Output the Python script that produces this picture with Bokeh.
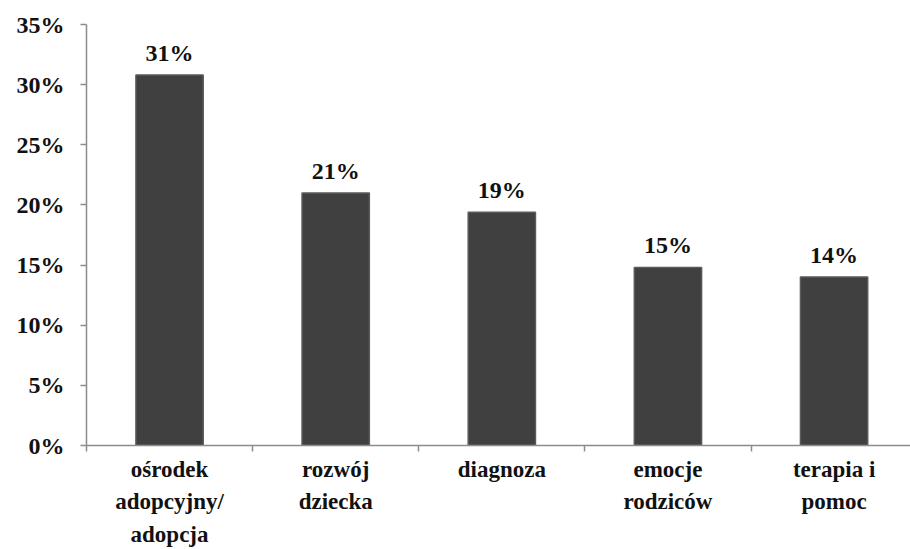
from bokeh.plotting import figure
from bokeh.models import Range1d, FixedTicker, ColumnDataSource
from bokeh.embed import file_html
from bokeh.resources import INLINE
from bokeh.core.properties import value

categories = ["ośrodek\nadopcyjny/\nadopcja", "rozwój\ndziecka", "diagnoza", "emocje\nrodziców", "terapia i\npomoc"]
values = [0.308, 0.210, 0.194, 0.148, 0.140]
value_labels = ["31%", "21%", "19%", "15%", "14%"]
y_ticks = [0.0, 0.05, 0.10, 0.15, 0.20, 0.25, 0.30, 0.35]
y_tick_labels = ["0%", "5%", "10%", "15%", "20%", "25%", "30%", "35%"]

FONT = "Liberation Serif"

xs = [i + 0.5 for i in range(len(categories))]
src = ColumnDataSource(dict(x=xs, top=values, lab=value_labels))

p = figure(width=910, height=549, output_backend="svg", toolbar_location=None,
           x_range=Range1d(0, 4.96), y_range=Range1d(0, 0.35),
           min_border_left=86, min_border_top=24, min_border_bottom=104, min_border_right=0)
p.outline_line_color = None
p.xgrid.visible = False
p.ygrid.visible = False
p.background_fill_color = "white"
p.border_fill_color = "white"

p.vbar(x="x", top="top", bottom=0, width=0.405, source=src,
       fill_color="#404040", line_color="#5a5a5a", line_width=1.5)

p.text(x="x", y="top", text="lab", source=src, y_offset=-9,
       text_align="center", text_baseline="bottom",
       text_font=value(FONT), text_font_style="bold", text_font_size="24px", text_color="#111111")

# y axis
ya = p.yaxis[0]
ya.ticker = FixedTicker(ticks=y_ticks)
ya.major_label_overrides = {t: l for t, l in zip(y_ticks, y_tick_labels)}
ya.major_label_text_font = FONT
ya.major_label_text_font_style = "bold"
ya.major_label_text_font_size = "24px"
ya.major_label_text_color = "#111111"
ya.axis_line_color = "#8c8c8c"
ya.major_tick_line_color = "#8c8c8c"
ya.major_tick_out = 6
ya.major_tick_in = 0
ya.minor_tick_line_color = None
ya.major_label_standoff = 16
ya.axis_line_width = 1.5
ya.major_tick_line_width = 1.5

# x axis
xa = p.xaxis[0]
xa.ticker = FixedTicker(ticks=xs, minor_ticks=[0, 1, 2, 3, 4, 5])
xa.major_label_overrides = {x: c for x, c in zip(xs, categories)}
xa.major_label_text_font = FONT
xa.major_label_text_font_style = "bold"
xa.major_label_text_font_size = "23px"
xa.major_label_text_color = "#111111"
xa.major_label_text_line_height = 1.3
xa.axis_line_color = "#8c8c8c"
xa.axis_line_width = 1.5
xa.major_tick_line_color = None
xa.major_tick_out = 0
xa.major_tick_in = 0
xa.minor_tick_line_color = "#8c8c8c"
xa.minor_tick_line_width = 1.5
xa.minor_tick_out = 6
xa.minor_tick_in = 0
xa.major_label_standoff = 5

open("out.html", "w").write(file_html(p, INLINE))
